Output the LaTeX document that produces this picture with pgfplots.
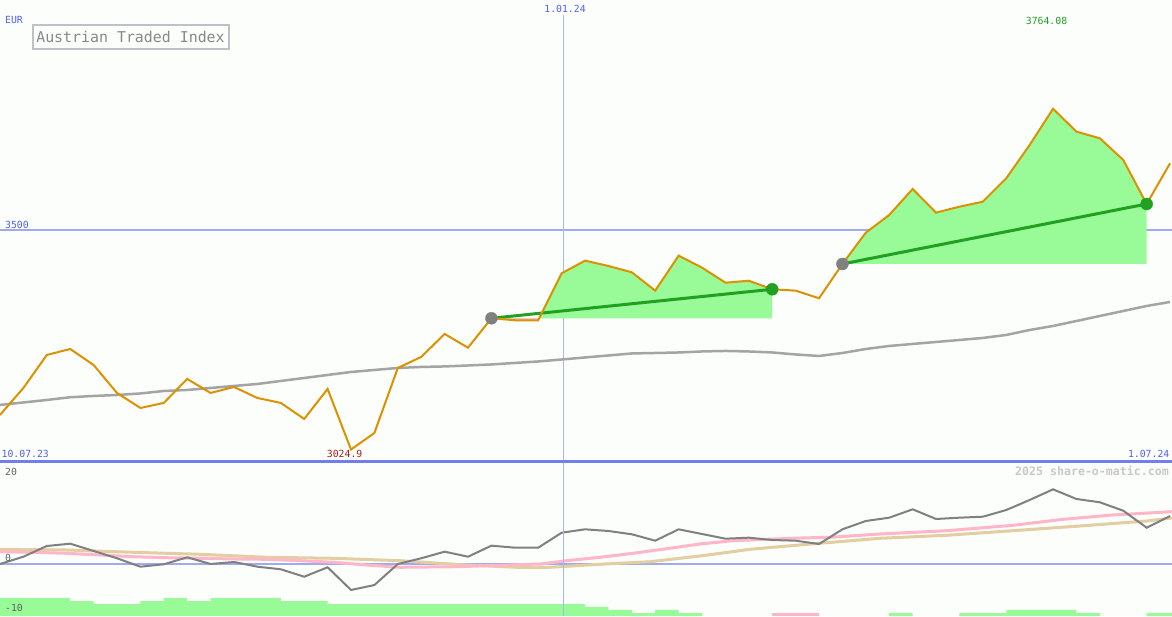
\documentclass[border=0pt]{standalone}
\usepackage{pgfplots}
\pgfplotsset{compat=1.18}
\usepackage{fontspec}
\setmainfont{DejaVu Sans Mono}
\setmonofont{DejaVu Sans Mono}

\definecolor{bgc}{RGB}{252,254,252}
\definecolor{orangec}{RGB}{221,145,0}
\definecolor{fillg}{RGB}{152,251,152}
\definecolor{trendg}{RGB}{34,160,34}
\definecolor{dotgray}{RGB}{128,128,128}
\definecolor{magray}{RGB}{164,164,164}
\definecolor{hlinec}{RGB}{160,170,240}
\definecolor{sepc}{RGB}{112,128,232}
\definecolor{vlinec}{RGB}{168,184,232}
\definecolor{bluetext}{RGB}{80,96,240}
\definecolor{pinkc}{RGB}{255,182,200}
\definecolor{tanc}{RGB}{226,206,160}
\definecolor{momc}{RGB}{128,128,128}
\definecolor{redtext}{RGB}{160,32,32}
\definecolor{greentext}{RGB}{34,160,34}
\definecolor{boxc}{RGB}{192,192,200}
\definecolor{titlec}{RGB}{136,136,136}
\definecolor{wmark}{RGB}{200,200,200}
\definecolor{axtext}{RGB}{96,96,96}

% weekly close, x = week index
\pgfplotstableread{
i price
0 3099.9
1 3158.4
2 3230.0
3 3243.0
4 3208.3
5 3147.6
6 3115.0
7 3126.0
8 3178.0
9 3147.6
10 3160.6
11 3136.7
12 3126.0
13 3091.2
14 3156.3
15 3024.9
16 3060.8
17 3201.8
18 3225.7
19 3275.6
20 3245.8
21 3309.6
22 3305.3
23 3305.3
24 3407.1
25 3434.6
26 3423.0
27 3409.3
28 3369.5
29 3445.4
30 3419.4
31 3386.8
32 3391.0
33 3372.5
34 3369.5
35 3353.0
36 3427.4
37 3495.3
38 3533.7
39 3590.0
40 3538.7
41 3551.7
42 3562.5
43 3613.2
44 3685.5
45 3764.08
46 3714.4
47 3700.0
48 3653.0
49 3557.5
50 3645.7
}\pricetab

% moving average
\pgfplotstableread{
i ma
0 3121.6
1 3127.0
2 3132.4
3 3138.3
4 3141.1
5 3143.2
6 3146.5
7 3151.9
8 3154.1
9 3158.4
10 3162.8
11 3167.1
12 3173.6
13 3180.1
14 3186.6
15 3193.1
16 3197.5
17 3201.8
18 3204.0
19 3205.1
20 3207.2
21 3209.4
22 3212.7
23 3215.9
24 3220.2
25 3224.6
26 3228.9
27 3233.3
28 3234.3
29 3235.4
30 3237.6
31 3238.7
32 3237.6
33 3235.4
34 3231.1
35 3227.8
36 3234.3
37 3243.0
38 3249.5
39 3253.9
40 3258.2
41 3262.5
42 3266.9
43 3273.4
44 3284.2
45 3292.9
46 3303.7
47 3314.6
48 3325.4
49 3336.3
50 3345.0
}\matab

% momentum
\pgfplotstableread{
i mom
0 0
1 1.57
2 3.87
3 4.37
4 2.80
5 1.23
6 -0.58
7 -0.06
8 1.44
9 0
10 0.43
11 -0.58
12 -1.14
13 -2.73
14 -0.71
15 -5.59
16 -4.52
17 0
18 1.23
19 2.65
20 1.57
21 3.94
22 3.51
23 3.51
24 6.73
25 7.46
26 7.10
27 6.39
28 5.01
29 7.46
30 6.45
31 5.44
32 5.66
33 5.16
34 5.01
35 4.30
36 7.46
37 9.25
38 9.96
39 11.76
40 9.68
41 9.96
42 10.17
43 11.61
44 13.76
45 16.06
46 13.98
47 13.27
48 11.46
49 7.81
50 10.32
}\momtab

\begin{document}
\begin{tikzpicture}[x=1pt,y=1pt]
\fill[bgc] (0,0) rectangle (1172,616);

% ---------- price panel ----------
\begin{axis}[at={(0pt,155pt)}, anchor=south west, scale only axis,
  width=1172pt, height=461pt,
  xmin=0, xmax=50.085, ymin=3000, ymax=4000,
  axis lines=none, clip=false]
\draw[hlinec, line width=2pt] (axis cs:0,3500) -- (axis cs:50.085,3500);
\draw[vlinec, line width=1pt] (axis cs:24.06,3967) -- (axis cs:24.06,3000);
\addplot[magray, line width=2.5pt] table[x=i, y=ma] {\matab};
\addplot[fillg, fill=fillg, draw=none] coordinates {
 (21,3309.6) (22,3305.3) (23,3305.3) (24,3407.1) (25,3434.6) (26,3423.0)
 (27,3409.3) (28,3369.5) (29,3445.4) (30,3419.4) (31,3386.8) (32,3391.0)
 (33,3372.5) (33,3309.6)} -- cycle;
\addplot[pinkc, fill=pinkc, draw=none] coordinates {
 (21,3309.6) (22,3305.3) (23,3305.3) (23.04,3309.6)} -- cycle;
\addplot[fillg, fill=fillg, draw=none] coordinates {
 (36,3427.4) (37,3495.3) (38,3533.7) (39,3590.0) (40,3538.7) (41,3551.7)
 (42,3562.5) (43,3613.2) (44,3685.5) (45,3764.08) (46,3714.4) (47,3700.0)
 (48,3653.0) (49,3557.5) (49,3427.4)} -- cycle;
\addplot[trendg, line width=3pt] coordinates {(21,3309.6) (33,3372.5)};
\addplot[trendg, line width=3pt] coordinates {(36,3427.4) (49,3557.5)};
\addplot[only marks, mark=*, mark size=6pt, dotgray] coordinates {(21,3309.6) (36,3427.4)};
\addplot[only marks, mark=*, mark size=6pt, trendg] coordinates {(33,3372.5) (49,3557.5)};
\addplot[orangec, line width=2pt] table[x=i, y=price] {\pricetab};
\end{axis}

% ---------- indicator panel ----------
\begin{axis}[at={(0pt,0pt)}, anchor=south west, scale only axis,
  width=1172pt, height=155pt,
  xmin=0, xmax=50.085, ymin=-11.183, ymax=22.15,
  axis lines=none, clip=true]
\addplot[fillg, fill=fillg, draw=none, const plot] coordinates {
 (0,-11.183) (0,-7.31) (3,-7.957) (4,-8.602) (6,-7.957) (7,-7.31) (8,-7.957)
 (9,-7.31) (12,-7.957) (14,-8.602) (25,-9.247) (26,-9.892) (27,-10.538)
 (28,-9.892) (29,-10.538) (30,-10.538) (30,-11.183)} -- cycle;
\addplot[fillg, fill=fillg, draw=none, const plot] coordinates {
 (38,-11.183) (38,-10.538) (39,-10.538) (39,-11.183)} -- cycle;
\addplot[fillg, fill=fillg, draw=none, const plot] coordinates {
 (41,-11.183) (41,-10.538) (43,-9.892) (46,-10.538) (47,-10.538) (47,-11.183)} -- cycle;
\addplot[fillg, fill=fillg, draw=none, const plot] coordinates {
 (49,-11.183) (49,-10.538) (50.085,-10.538) (50.085,-11.183)} -- cycle;
\addplot[pinkc, fill=pinkc, draw=none, const plot] coordinates {
 (33,-11.183) (33,-10.538) (35,-10.538) (35,-11.183)} -- cycle;
\draw[hlinec, line width=2pt] (axis cs:0,0) -- (axis cs:50.085,0);
\addplot[tanc, line width=3pt] coordinates {
 (0,3.16) (2.85,3.01) (5.68,2.52) (8.55,2.09) (11.40,1.44) (14.23,1.23)
 (17.09,0.71) (19.94,-0.22) (22.08,-0.71) (23.50,-0.71) (25.64,-0.06)
 (27.78,0.49) (29.91,1.72) (32.05,3.16) (34.19,4.1) (37.61,5.53)
 (40.46,6.17) (43.29,7.16) (46.15,8.17) (49.00,9.25) (50.09,9.89)};
\addplot[pinkc, line width=3pt] coordinates {
 (0,2.65) (1.41,2.52) (2.85,2.30) (4.27,1.94) (5.68,1.57) (7.12,1.35)
 (8.55,1.23) (9.96,1.08) (11.40,1.01) (12.82,0.71) (14.23,0.37)
 (15.67,-0.22) (17.09,-0.71) (19.52,-0.58) (21.37,-0.28) (23.08,0)
 (24.22,0.71) (25.64,1.44) (27.05,2.30) (28.49,3.29) (29.91,4.30)
 (31.32,5.01) (32.76,5.31) (34.19,5.59) (35.47,5.74) (37.61,6.45)
 (40.46,7.16) (43.29,8.32) (45.43,9.61) (47.56,10.54) (50.09,11.25)};
\addplot[momc, line width=2pt] table[x=i, y=mom] {\momtab};
\draw[vlinec, line width=1pt] (axis cs:24.06,22.15) -- (axis cs:24.06,-11.183);
\end{axis}

\draw[sepc, line width=2.5pt] (0,154.5) -- (1172,154.5);

% ---------- texts ----------
\def\sm{\fontsize{9.8pt}{11pt}\selectfont}
\node[anchor=west, inner sep=0pt, text=bluetext, font=\sm] at (5,596) {EUR};
\draw[boxc, line width=2pt, fill=bgc] (32.5,591.3) rectangle (228.5,567.3);
\node[inner sep=0pt, text=titlec, font=\fontsize{14.9pt}{16pt}\selectfont] at (130.5,579.3) {Austrian Traded Index};
\node[inner sep=0pt, text=bluetext, font=\sm] at (565,607) {1.01.24};
\node[inner sep=0pt, text=greentext, font=\sm] at (1046.5,595) {3764.08};
\node[anchor=west, inner sep=0pt, text=bluetext, font=\sm] at (5,391) {3500};
\node[anchor=west, inner sep=0pt, text=bluetext, font=\sm] at (1.5,162) {10.07.23};
\node[anchor=west, inner sep=0pt, text=redtext, font=\sm] at (326.7,162) {3024.9};
\node[anchor=east, inner sep=0pt, text=bluetext, font=\sm] at (1169.5,162) {1.07.24};
\node[anchor=east, inner sep=0pt, text=wmark, font=\fontsize{11.6pt}{13pt}\selectfont\bfseries] at (1169,145) {2025 share-o-matic.com};
\node[anchor=west, inner sep=0pt, text=axtext, font=\sm] at (5,144.3) {20};
\node[anchor=west, inner sep=0pt, text=axtext, font=\sm] at (5,57.7) {0};
\node[anchor=west, inner sep=0pt, text=axtext, font=\sm] at (5,8.3) {-10};

\pgfresetboundingbox
\useasboundingbox (0,0) rectangle (1172,616);
\end{tikzpicture}
\end{document}
